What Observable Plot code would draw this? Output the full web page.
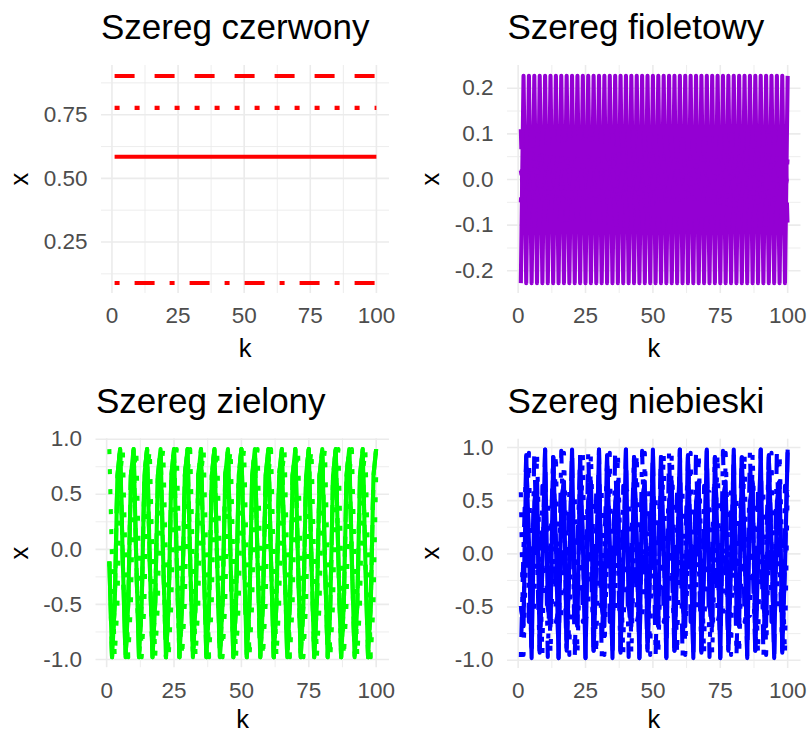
<!DOCTYPE html>
<html>
<head>
<meta charset="utf-8">
<script src="https://cdn.jsdelivr.net/npm/d3@7"></script>
<script src="https://cdn.jsdelivr.net/npm/@observablehq/plot@0.6"></script>
<style>
html, body { margin: 0; padding: 0; background: #ffffff; }
#wrap { position: relative; width: 808px; height: 734px; overflow: hidden; background: #ffffff; }
#wrap svg { position: absolute; }
</style>
</head>
<body>
<div id="wrap"></div>
<script>
// ---------- data ----------
const k = [
  1,2,3,4,5,6,7,8,9,10,11,12,13,14,15,16,17,18,19,20,
  21,22,23,24,25,26,27,28,29,30,31,32,33,34,35,36,37,38,39,40,
  41,42,43,44,45,46,47,48,49,50,51,52,53,54,55,56,57,58,59,60,
  61,62,63,64,65,66,67,68,69,70,71,72,73,74,75,76,77,78,79,80,
  81,82,83,84,85,86,87,88,89,90,91,92,93,94,95,96,97,98,99,100
];

const titles = ["Szereg czerwony", "Szereg fioletowy", "Szereg zielony", "Szereg niebieski"];
const xTicks = [0, 25, 50, 75, 100];
const xMinorTicks = [12.5, 37.5, 62.5, 87.5];
const redTicks = [0.25, 0.50, 0.75];
const redMinorTicks = [0.125, 0.375, 0.625, 0.875];
const purpleTicks = [-0.2, -0.1, 0.0, 0.1, 0.2];
const purpleMinorTicks = [-0.15, -0.05, 0.05, 0.15];
const unitTicks = [-1.0, -0.5, 0.0, 0.5, 1.0];
const unitMinorTicks = [-0.75, -0.25, 0.25, 0.75];

// Szereg czerwony
const redSolid = [
  0.585,0.585,0.585,0.585,0.585,0.585,0.585,0.585,0.585,0.585,
  0.585,0.585,0.585,0.585,0.585,0.585,0.585,0.585,0.585,0.585,
  0.585,0.585,0.585,0.585,0.585,0.585,0.585,0.585,0.585,0.585,
  0.585,0.585,0.585,0.585,0.585,0.585,0.585,0.585,0.585,0.585,
  0.585,0.585,0.585,0.585,0.585,0.585,0.585,0.585,0.585,0.585,
  0.585,0.585,0.585,0.585,0.585,0.585,0.585,0.585,0.585,0.585,
  0.585,0.585,0.585,0.585,0.585,0.585,0.585,0.585,0.585,0.585,
  0.585,0.585,0.585,0.585,0.585,0.585,0.585,0.585,0.585,0.585,
  0.585,0.585,0.585,0.585,0.585,0.585,0.585,0.585,0.585,0.585,
  0.585,0.585,0.585,0.585,0.585,0.585,0.585,0.585,0.585,0.585
];
const redDashed = [
  0.902,0.902,0.902,0.902,0.902,0.902,0.902,0.902,0.902,0.902,
  0.902,0.902,0.902,0.902,0.902,0.902,0.902,0.902,0.902,0.902,
  0.902,0.902,0.902,0.902,0.902,0.902,0.902,0.902,0.902,0.902,
  0.902,0.902,0.902,0.902,0.902,0.902,0.902,0.902,0.902,0.902,
  0.902,0.902,0.902,0.902,0.902,0.902,0.902,0.902,0.902,0.902,
  0.902,0.902,0.902,0.902,0.902,0.902,0.902,0.902,0.902,0.902,
  0.902,0.902,0.902,0.902,0.902,0.902,0.902,0.902,0.902,0.902,
  0.902,0.902,0.902,0.902,0.902,0.902,0.902,0.902,0.902,0.902,
  0.902,0.902,0.902,0.902,0.902,0.902,0.902,0.902,0.902,0.902,
  0.902,0.902,0.902,0.902,0.902,0.902,0.902,0.902,0.902,0.902
];
const redDotted = [
  0.777,0.777,0.777,0.777,0.777,0.777,0.777,0.777,0.777,0.777,
  0.777,0.777,0.777,0.777,0.777,0.777,0.777,0.777,0.777,0.777,
  0.777,0.777,0.777,0.777,0.777,0.777,0.777,0.777,0.777,0.777,
  0.777,0.777,0.777,0.777,0.777,0.777,0.777,0.777,0.777,0.777,
  0.777,0.777,0.777,0.777,0.777,0.777,0.777,0.777,0.777,0.777,
  0.777,0.777,0.777,0.777,0.777,0.777,0.777,0.777,0.777,0.777,
  0.777,0.777,0.777,0.777,0.777,0.777,0.777,0.777,0.777,0.777,
  0.777,0.777,0.777,0.777,0.777,0.777,0.777,0.777,0.777,0.777,
  0.777,0.777,0.777,0.777,0.777,0.777,0.777,0.777,0.777,0.777,
  0.777,0.777,0.777,0.777,0.777,0.777,0.777,0.777,0.777,0.777
];
const redDotdash = [
  0.089,0.089,0.089,0.089,0.089,0.089,0.089,0.089,0.089,0.089,
  0.089,0.089,0.089,0.089,0.089,0.089,0.089,0.089,0.089,0.089,
  0.089,0.089,0.089,0.089,0.089,0.089,0.089,0.089,0.089,0.089,
  0.089,0.089,0.089,0.089,0.089,0.089,0.089,0.089,0.089,0.089,
  0.089,0.089,0.089,0.089,0.089,0.089,0.089,0.089,0.089,0.089,
  0.089,0.089,0.089,0.089,0.089,0.089,0.089,0.089,0.089,0.089,
  0.089,0.089,0.089,0.089,0.089,0.089,0.089,0.089,0.089,0.089,
  0.089,0.089,0.089,0.089,0.089,0.089,0.089,0.089,0.089,0.089,
  0.089,0.089,0.089,0.089,0.089,0.089,0.089,0.089,0.089,0.089,
  0.089,0.089,0.089,0.089,0.089,0.089,0.089,0.089,0.089,0.089
];

// Szereg fioletowy
const purpleSolid = [
  -0.227,0.227,-0.227,0.227,-0.227,0.227,-0.227,0.227,-0.227,0.227,
  -0.227,0.227,-0.227,0.227,-0.227,0.227,-0.227,0.227,-0.227,0.227,
  -0.227,0.227,-0.227,0.227,-0.227,0.227,-0.227,0.227,-0.227,0.227,
  -0.227,0.227,-0.227,0.227,-0.227,0.227,-0.227,0.227,-0.227,0.227,
  -0.227,0.227,-0.227,0.227,-0.227,0.227,-0.227,0.227,-0.227,0.227,
  -0.227,0.227,-0.227,0.227,-0.227,0.227,-0.227,0.227,-0.227,0.227,
  -0.227,0.227,-0.227,0.227,-0.227,0.227,-0.227,0.227,-0.227,0.227,
  -0.227,0.227,-0.227,0.227,-0.227,0.227,-0.227,0.227,-0.227,0.227,
  -0.227,0.227,-0.227,0.227,-0.227,0.227,-0.227,0.227,-0.227,0.227,
  -0.227,0.227,-0.227,0.227,-0.227,0.227,-0.227,0.227,-0.227,0.227
];
const purpleDashed = [
  0.11,-0.11,0.11,-0.11,0.11,-0.11,0.11,-0.11,0.11,-0.11,
  0.11,-0.11,0.11,-0.11,0.11,-0.11,0.11,-0.11,0.11,-0.11,
  0.11,-0.11,0.11,-0.11,0.11,-0.11,0.11,-0.11,0.11,-0.11,
  0.11,-0.11,0.11,-0.11,0.11,-0.11,0.11,-0.11,0.11,-0.11,
  0.11,-0.11,0.11,-0.11,0.11,-0.11,0.11,-0.11,0.11,-0.11,
  0.11,-0.11,0.11,-0.11,0.11,-0.11,0.11,-0.11,0.11,-0.11,
  0.11,-0.11,0.11,-0.11,0.11,-0.11,0.11,-0.11,0.11,-0.11,
  0.11,-0.11,0.11,-0.11,0.11,-0.11,0.11,-0.11,0.11,-0.11,
  0.11,-0.11,0.11,-0.11,0.11,-0.11,0.11,-0.11,0.11,-0.11,
  0.11,-0.11,0.11,-0.11,0.11,-0.11,0.11,-0.11,0.11,-0.11
];
const purpleDotted = [
  -0.05,0.05,-0.05,0.05,-0.05,0.05,-0.05,0.05,-0.05,0.05,
  -0.05,0.05,-0.05,0.05,-0.05,0.05,-0.05,0.05,-0.05,0.05,
  -0.05,0.05,-0.05,0.05,-0.05,0.05,-0.05,0.05,-0.05,0.05,
  -0.05,0.05,-0.05,0.05,-0.05,0.05,-0.05,0.05,-0.05,0.05,
  -0.05,0.05,-0.05,0.05,-0.05,0.05,-0.05,0.05,-0.05,0.05,
  -0.05,0.05,-0.05,0.05,-0.05,0.05,-0.05,0.05,-0.05,0.05,
  -0.05,0.05,-0.05,0.05,-0.05,0.05,-0.05,0.05,-0.05,0.05,
  -0.05,0.05,-0.05,0.05,-0.05,0.05,-0.05,0.05,-0.05,0.05,
  -0.05,0.05,-0.05,0.05,-0.05,0.05,-0.05,0.05,-0.05,0.05,
  -0.05,0.05,-0.05,0.05,-0.05,0.05,-0.05,0.05,-0.05,0.05
];
const purpleDotdash = [
  0.02,-0.02,0.02,-0.02,0.02,-0.02,0.02,-0.02,0.02,-0.02,
  0.02,-0.02,0.02,-0.02,0.02,-0.02,0.02,-0.02,0.02,-0.02,
  0.02,-0.02,0.02,-0.02,0.02,-0.02,0.02,-0.02,0.02,-0.02,
  0.02,-0.02,0.02,-0.02,0.02,-0.02,0.02,-0.02,0.02,-0.02,
  0.02,-0.02,0.02,-0.02,0.02,-0.02,0.02,-0.02,0.02,-0.02,
  0.02,-0.02,0.02,-0.02,0.02,-0.02,0.02,-0.02,0.02,-0.02,
  0.02,-0.02,0.02,-0.02,0.02,-0.02,0.02,-0.02,0.02,-0.02,
  0.02,-0.02,0.02,-0.02,0.02,-0.02,0.02,-0.02,0.02,-0.02,
  0.02,-0.02,0.02,-0.02,0.02,-0.02,0.02,-0.02,0.02,-0.02,
  0.02,-0.02,0.02,-0.02,0.02,-0.02,0.02,-0.02,0.02,-0.02
];

// Szereg zielony
const greenSolid = [
  -0.11,-0.98,-0.50,0.67,0.91,-0.11,-0.98,-0.50,0.67,0.91,
  -0.11,-0.98,-0.50,0.67,0.91,-0.11,-0.98,-0.50,0.67,0.91,
  -0.11,-0.98,-0.50,0.67,0.91,-0.11,-0.98,-0.50,0.67,0.91,
  -0.11,-0.98,-0.50,0.67,0.91,-0.11,-0.98,-0.50,0.67,0.91,
  -0.11,-0.98,-0.50,0.67,0.91,-0.11,-0.98,-0.50,0.67,0.91,
  -0.11,-0.98,-0.50,0.67,0.91,-0.11,-0.98,-0.50,0.67,0.91,
  -0.11,-0.98,-0.50,0.67,0.91,-0.11,-0.98,-0.50,0.67,0.91,
  -0.11,-0.98,-0.50,0.67,0.91,-0.11,-0.98,-0.50,0.67,0.91,
  -0.11,-0.98,-0.50,0.67,0.91,-0.11,-0.98,-0.50,0.67,0.91,
  -0.11,-0.98,-0.50,0.67,0.91,-0.11,-0.98,-0.50,0.67,0.91
];
const greenDashed = [
  -0.11,-0.98,-0.50,0.67,0.91,-0.11,-0.98,-0.50,0.67,0.91,
  -0.11,-0.98,-0.50,0.67,0.91,-0.11,-0.98,-0.50,0.67,0.91,
  -0.11,-0.98,-0.50,0.67,0.91,-0.11,-0.98,-0.50,0.67,0.91,
  -0.11,-0.98,-0.50,0.67,0.91,-0.11,-0.98,-0.50,0.67,0.91,
  -0.11,-0.98,-0.50,0.67,0.91,-0.11,-0.98,-0.50,0.67,0.91,
  -0.11,-0.98,-0.50,0.67,0.91,-0.11,-0.98,-0.50,0.67,0.91,
  -0.11,-0.98,-0.50,0.67,0.91,-0.11,-0.98,-0.50,0.67,0.91,
  -0.11,-0.98,-0.50,0.67,0.91,-0.11,-0.98,-0.50,0.67,0.91,
  -0.11,-0.98,-0.50,0.67,0.91,-0.11,-0.98,-0.50,0.67,0.91,
  -0.11,-0.98,-0.50,0.67,0.91,-0.11,-0.98,-0.50,0.67,0.91
];
const greenDotted = [
  0.91,-0.11,-0.98,-0.50,0.67,0.91,-0.11,-0.98,-0.50,0.67,
  0.91,-0.11,-0.98,-0.50,0.67,0.91,-0.11,-0.98,-0.50,0.67,
  0.91,-0.11,-0.98,-0.50,0.67,0.91,-0.11,-0.98,-0.50,0.67,
  0.91,-0.11,-0.98,-0.50,0.67,0.91,-0.11,-0.98,-0.50,0.67,
  0.91,-0.11,-0.98,-0.50,0.67,0.91,-0.11,-0.98,-0.50,0.67,
  0.91,-0.11,-0.98,-0.50,0.67,0.91,-0.11,-0.98,-0.50,0.67,
  0.91,-0.11,-0.98,-0.50,0.67,0.91,-0.11,-0.98,-0.50,0.67,
  0.91,-0.11,-0.98,-0.50,0.67,0.91,-0.11,-0.98,-0.50,0.67,
  0.91,-0.11,-0.98,-0.50,0.67,0.91,-0.11,-0.98,-0.50,0.67,
  0.91,-0.11,-0.98,-0.50,0.67,0.91,-0.11,-0.98,-0.50,0.67
];
const greenDotdash = [
  -0.11,-0.98,-0.50,0.67,0.91,-0.11,-0.98,-0.50,0.67,0.91,
  -0.11,-0.98,-0.50,0.67,0.91,-0.11,-0.98,-0.50,0.67,0.91,
  -0.11,-0.98,-0.50,0.67,0.91,-0.11,-0.98,-0.50,0.67,0.91,
  -0.11,-0.98,-0.50,0.67,0.91,-0.11,-0.98,-0.50,0.67,0.91,
  -0.11,-0.98,-0.50,0.67,0.91,-0.11,-0.98,-0.50,0.67,0.91,
  -0.11,-0.98,-0.50,0.67,0.91,-0.11,-0.98,-0.50,0.67,0.91,
  -0.11,-0.98,-0.50,0.67,0.91,-0.11,-0.98,-0.50,0.67,0.91,
  -0.11,-0.98,-0.50,0.67,0.91,-0.11,-0.98,-0.50,0.67,0.91,
  -0.11,-0.98,-0.50,0.67,0.91,-0.11,-0.98,-0.50,0.67,0.91,
  -0.11,-0.98,-0.50,0.67,0.91,-0.11,-0.98,-0.50,0.67,0.91
];

// Szereg niebieski
const blueSolid = [
  -0.49,-0.68,0.91,0.11,-0.98,0.49,0.68,-0.91,-0.11,0.98,
  -0.49,-0.68,0.91,0.11,-0.98,0.49,0.68,-0.91,-0.11,0.98,
  -0.49,-0.68,0.91,0.11,-0.98,0.49,0.68,-0.91,-0.11,0.98,
  -0.49,-0.68,0.91,0.11,-0.98,0.49,0.68,-0.91,-0.11,0.98,
  -0.49,-0.68,0.91,0.11,-0.98,0.49,0.68,-0.91,-0.11,0.98,
  -0.49,-0.68,0.91,0.11,-0.98,0.49,0.68,-0.91,-0.11,0.98,
  -0.49,-0.68,0.91,0.11,-0.98,0.49,0.68,-0.91,-0.11,0.98,
  -0.49,-0.68,0.91,0.11,-0.98,0.49,0.68,-0.91,-0.11,0.98,
  -0.49,-0.68,0.91,0.11,-0.98,0.49,0.68,-0.91,-0.11,0.98,
  -0.49,-0.68,0.91,0.11,-0.98,0.49,0.68,-0.91,-0.11,0.98
];
const blueDashed = [
  -0.49,-0.68,0.91,0.11,-0.98,0.49,0.68,-0.91,-0.11,0.98,
  -0.49,-0.68,0.91,0.11,-0.98,0.49,0.68,-0.91,-0.11,0.98,
  -0.49,-0.68,0.91,0.11,-0.98,0.49,0.68,-0.91,-0.11,0.98,
  -0.49,-0.68,0.91,0.11,-0.98,0.49,0.68,-0.91,-0.11,0.98,
  -0.49,-0.68,0.91,0.11,-0.98,0.49,0.68,-0.91,-0.11,0.98,
  -0.49,-0.68,0.91,0.11,-0.98,0.49,0.68,-0.91,-0.11,0.98,
  -0.49,-0.68,0.91,0.11,-0.98,0.49,0.68,-0.91,-0.11,0.98,
  -0.49,-0.68,0.91,0.11,-0.98,0.49,0.68,-0.91,-0.11,0.98,
  -0.49,-0.68,0.91,0.11,-0.98,0.49,0.68,-0.91,-0.11,0.98,
  -0.49,-0.68,0.91,0.11,-0.98,0.49,0.68,-0.91,-0.11,0.98
];
const blueDotted = [
  0.58,-0.95,0.01,0.95,-0.60,-0.58,0.95,-0.01,-0.95,0.60,
  0.58,-0.95,0.01,0.95,-0.60,-0.58,0.95,-0.01,-0.95,0.60,
  0.58,-0.95,0.01,0.95,-0.60,-0.58,0.95,-0.01,-0.95,0.60,
  0.58,-0.95,0.01,0.95,-0.60,-0.58,0.95,-0.01,-0.95,0.60,
  0.58,-0.95,0.01,0.95,-0.60,-0.58,0.95,-0.01,-0.95,0.60,
  0.58,-0.95,0.01,0.95,-0.60,-0.58,0.95,-0.01,-0.95,0.60,
  0.58,-0.95,0.01,0.95,-0.60,-0.58,0.95,-0.01,-0.95,0.60,
  0.58,-0.95,0.01,0.95,-0.60,-0.58,0.95,-0.01,-0.95,0.60,
  0.58,-0.95,0.01,0.95,-0.60,-0.58,0.95,-0.01,-0.95,0.60,
  0.58,-0.95,0.01,0.95,-0.60,-0.58,0.95,-0.01,-0.95,0.60
];
const blueDotdash = [
  -0.97,0.07,0.93,-0.64,-0.53,0.97,-0.07,-0.93,0.64,0.53,
  -0.97,0.07,0.93,-0.64,-0.53,0.97,-0.07,-0.93,0.64,0.53,
  -0.97,0.07,0.93,-0.64,-0.53,0.97,-0.07,-0.93,0.64,0.53,
  -0.97,0.07,0.93,-0.64,-0.53,0.97,-0.07,-0.93,0.64,0.53,
  -0.97,0.07,0.93,-0.64,-0.53,0.97,-0.07,-0.93,0.64,0.53,
  -0.97,0.07,0.93,-0.64,-0.53,0.97,-0.07,-0.93,0.64,0.53,
  -0.97,0.07,0.93,-0.64,-0.53,0.97,-0.07,-0.93,0.64,0.53,
  -0.97,0.07,0.93,-0.64,-0.53,0.97,-0.07,-0.93,0.64,0.53,
  -0.97,0.07,0.93,-0.64,-0.53,0.97,-0.07,-0.93,0.64,0.53,
  -0.97,0.07,0.93,-0.64,-0.53,0.97,-0.07,-0.93,0.64,0.53
];

// ---------- styling ----------
const FONT = "'Liberation Sans', Arial, Helvetica, sans-serif";
const GRID = "#ebebeb";
const TICK_COLOR = "#4d4d4d";
const LINE_W = 4.1;
const DASH = { solid: null, dashed: "20,20", dotted: "5,15", dotdash: "5,15,20,15" };
const CELL_W = 404, CELL_H = 367;

const panels = [
  { title: titles[0], cx: 0, cy: 0, color: "#ff0000",
    m: { l: 101, r: 15, t: 65, b: 74 }, yDomain: [0.0477, 0.9433],
    yTicks: redTicks, yMinor: redMinorTicks, fmt: d => d.toFixed(2),
    series: [[redSolid, "solid"], [redDashed, "dashed"], [redDotted, "dotted"], [redDotdash, "dotdash"]] },
  { title: titles[1], cx: 404, cy: 0, color: "#9400d3",
    m: { l: 103, r: 7.5, t: 65, b: 74 }, yDomain: [-0.2497, 0.2497],
    yTicks: purpleTicks, yMinor: purpleMinorTicks, fmt: d => d.toFixed(1),
    series: [[purpleSolid, "solid"], [purpleDashed, "dashed"], [purpleDotted, "dotted"], [purpleDotdash, "dotdash"]] },
  { title: titles[2], cx: 0, cy: 367, color: "#00ff00",
    m: { l: 95.5, r: 15, t: 71.2, b: 66.8 }, yDomain: [-1.0745, 1.0045],
    yTicks: unitTicks, yMinor: unitMinorTicks, fmt: d => d.toFixed(1),
    series: [[greenSolid, "solid"], [greenDashed, "dashed"], [greenDotdash, "dotdash"], [greenDotted, "dotted"]] },
  { title: titles[3], cx: 404, cy: 367, color: "#0000ff",
    m: { l: 103, r: 7.5, t: 71.7, b: 66 }, yDomain: [-1.078, 1.078],
    yTicks: unitTicks, yMinor: unitMinorTicks, fmt: d => d.toFixed(1),
    series: [[blueSolid, "solid"], [blueDashed, "dashed"], [blueDotdash, "dotdash"], [blueDotted, "dotted"]] }
];

const wrap = document.getElementById("wrap");

for (const p of panels) {
  const marks = [
    Plot.gridY(p.yMinor, { stroke: GRID, strokeOpacity: 1, strokeWidth: 0.9 }),
    Plot.gridX(xMinorTicks, { stroke: GRID, strokeOpacity: 1, strokeWidth: 0.9 }),
    Plot.gridY(p.yTicks, { stroke: GRID, strokeOpacity: 1, strokeWidth: 1.6 }),
    Plot.gridX(xTicks, { stroke: GRID, strokeOpacity: 1, strokeWidth: 1.6 }),
    Plot.axisX(xTicks, { tickSize: 0, tickPadding: 14, label: null, fontSize: 22.5, fill: TICK_COLOR }),
    Plot.axisY(p.yTicks, { tickSize: 0, tickPadding: 14, label: null, fontSize: 22.5, fill: TICK_COLOR, tickFormat: p.fmt })
  ];
  for (const [vals, type] of p.series) {
    const opts = { x: k, y: vals, stroke: p.color, strokeWidth: LINE_W,
                   strokeLinecap: "butt", strokeLinejoin: "round" };
    if (DASH[type]) opts.strokeDasharray = DASH[type];
    marks.push(Plot.line(vals, opts));
  }
  const svg = Plot.plot({
    width: CELL_W, height: CELL_H,
    marginLeft: p.m.l, marginRight: p.m.r, marginTop: p.m.t, marginBottom: p.m.b,
    x: { domain: [-3.95, 104.95] },
    y: { domain: p.yDomain },
    style: { fontFamily: FONT, fontSize: "22.5px", color: TICK_COLOR, background: "transparent", overflow: "visible" },
    marks
  });
  svg.style.left = p.cx + "px";
  svg.style.top = p.cy + "px";
  wrap.appendChild(svg);
}

// ---------- titles and axis titles ----------
const overlay = d3.select(wrap).append("svg")
  .attr("width", 808).attr("height", 734)
  .style("left", "0px").style("top", "0px")
  .style("pointer-events", "none")
  .style("font-family", FONT);

const labelPos = [
  { tx: 101, ty: 39.3, kx: 245, ky: 357, xx: 27.6, xy: 179 },
  { tx: 507.5, ty: 39.3, kx: 653.75, ky: 357, xx: 439.2, xy: 179 },
  { tx: 96, ty: 412.5, kx: 242.5, ky: 728, xx: 27.6, xy: 553 },
  { tx: 507.5, ty: 412.5, kx: 653.75, ky: 728, xx: 439.2, xy: 553 }
];

panels.forEach((p, i) => {
  const L = labelPos[i];
  overlay.append("text").attr("x", L.tx).attr("y", L.ty)
    .attr("font-size", 35).attr("fill", "#000").text(p.title);
  overlay.append("text").attr("x", L.kx).attr("y", L.ky)
    .attr("font-size", 25.5).attr("fill", "#000").attr("text-anchor", "middle").text("k");
  overlay.append("text").attr("x", L.xx).attr("y", L.xy)
    .attr("font-size", 25.5).attr("fill", "#000").attr("text-anchor", "middle")
    .attr("transform", `rotate(-90, ${L.xx}, ${L.xy})`).text("x");
});
</script>
</body>
</html>
